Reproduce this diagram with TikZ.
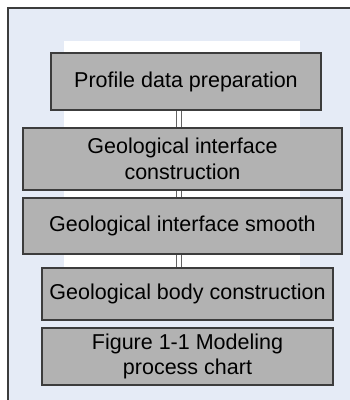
\documentclass[tikz,border=0pt]{standalone}
\usepackage{fontspec}
\setmainfont{Liberation Sans}
\usepackage{tikz}
\usepackage{xcolor}

\definecolor{panelblue}{HTML}{E5EBF6}
\definecolor{boxgray}{HTML}{B2B2B2}
\definecolor{edgegray}{HTML}{3C3C3C}

\tikzset{
  stepbox/.style={draw=edgegray,line width=1.4pt,fill=boxgray,inner sep=0pt,
    align=center,font=\fontsize{21.5}{25.5}\selectfont},
  link/.style={draw=edgegray!80,line width=0.9pt,double=white,double distance=4.5pt}
}

\begin{document}
\begin{tikzpicture}[x=1pt,y=-1pt]
            \useasboundingbox (0,0) rectangle (350,400);
            \fill[panelblue] (8,8) rectangle (350,400);
            \draw[edgegray,line width=1.2pt] (350,8)--(8,8)--(8,400);
            \fill[white] (64,41) rectangle (300,320);
            \node[stepbox,minimum width=270pt,minimum height=57pt] (prep) at (186,81.5) {Profile data preparation};
            \node[stepbox,minimum width=319pt,minimum height=62pt] (iface) at (182.5,159) {Geological interface\\construction};
            \node[stepbox,minimum width=319pt,minimum height=56pt] (smooth) at (182.5,226) {Geological interface smooth};
            \node[stepbox,minimum width=291pt,minimum height=52pt] (body) at (187.5,294) {Geological body construction};
            \node[stepbox,minimum width=291pt,minimum height=57pt] (caption) at (187.5,356.5) {Figure 1-1 Modeling\\process chart};
            \coordinate (axis) at (179,0);
            \draw[link] (axis |- prep.south)--(axis |- iface.north);
            \draw[link] (axis |- iface.south)--(axis |- smooth.north);
            \draw[link] (axis |- smooth.south)--(axis |- body.north);
        \end{tikzpicture}
\end{document}
